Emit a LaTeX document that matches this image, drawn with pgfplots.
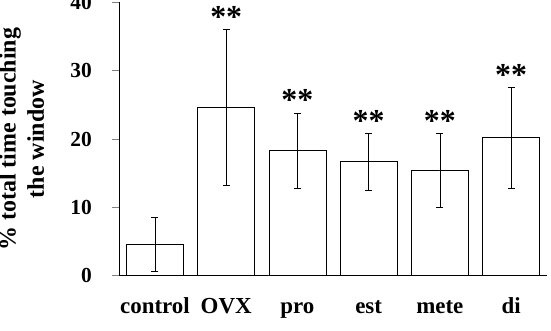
\documentclass[border=0pt]{standalone}
\usepackage{fontspec}
\setmainfont{Liberation Serif}
\usepackage{pgfplots}
\pgfplotsset{compat=1.18}
\usetikzlibrary{calc}

% mean, SEM-style error, and the height where the significance marks sit
\pgfplotstableread{
x  y      e
0  4.6    3.95
1  24.7   11.4
2  18.35  5.5
3  16.7   4.2
4  15.4   5.4
5  20.2   7.4
}\timedata

\pgfplotstableread{
x  y
1  36.1
2  23.85
3  20.9
4  20.8
5  27.6
}\signif

\begin{document}
\begin{tikzpicture}
\begin{axis}[
  name=ax,
  scale only axis,
  width=427bp, height=273.2bp,
  xmin=-0.5, xmax=5.5,
  ymin=0, ymax=40,
  axis x line*=bottom, axis y line*=left,
  axis line style={line width=0.8pt},
  xtick={0,...,5},
  xticklabels={control,OVX,pro,est,mete,di},
  x tick style={draw=none},
  ytick={0,10,20,30,40},
  tick align=outside,
  major tick length=7bp,
  y tick style={line width=0.8pt},
  /pgf/number format/assume math mode=true,
  yticklabel style={font=\fontsize{21.5}{25}\selectfont\bfseries, xshift=-17bp},
  xticklabel style={font=\fontsize{23}{27}\selectfont\bfseries,
    anchor=base, yshift=-30.5bp},
  ylabel={\% total time touching\\the window},
  every axis y label/.style={
    at={(axis description cs:-0.229,0.5)},
    rotate=90, anchor=center, align=center,
    font=\fontsize{24}{28.5}\selectfont\bfseries},
  clip=false,
]
\addplot[ybar, bar width=0.8, fill=white, draw=black, line width=0.8pt,
  error bars/.cd, y dir=both, y explicit,
  error bar style={line width=0.7pt},
  error mark options={rotate=90, mark size=3.5bp, line width=0.7pt}]
  table[x=x, y=y, y error=e] {\timedata};

\addplot[only marks, mark=none,
  nodes near coords={**},
  every node near coord/.append style={
    font=\fontsize{32}{33}\selectfont\bfseries, anchor=base, yshift=2bp, inner sep=0pt}]
  table[x=x, y=y] {\signif};
\end{axis}
\pgfresetboundingbox
\path ($(ax.south west)+(-119.3bp,-54.3bp)$) rectangle ($(ax.north east)+(4.3bp,2.5bp)$);
\end{tikzpicture}
\end{document}
